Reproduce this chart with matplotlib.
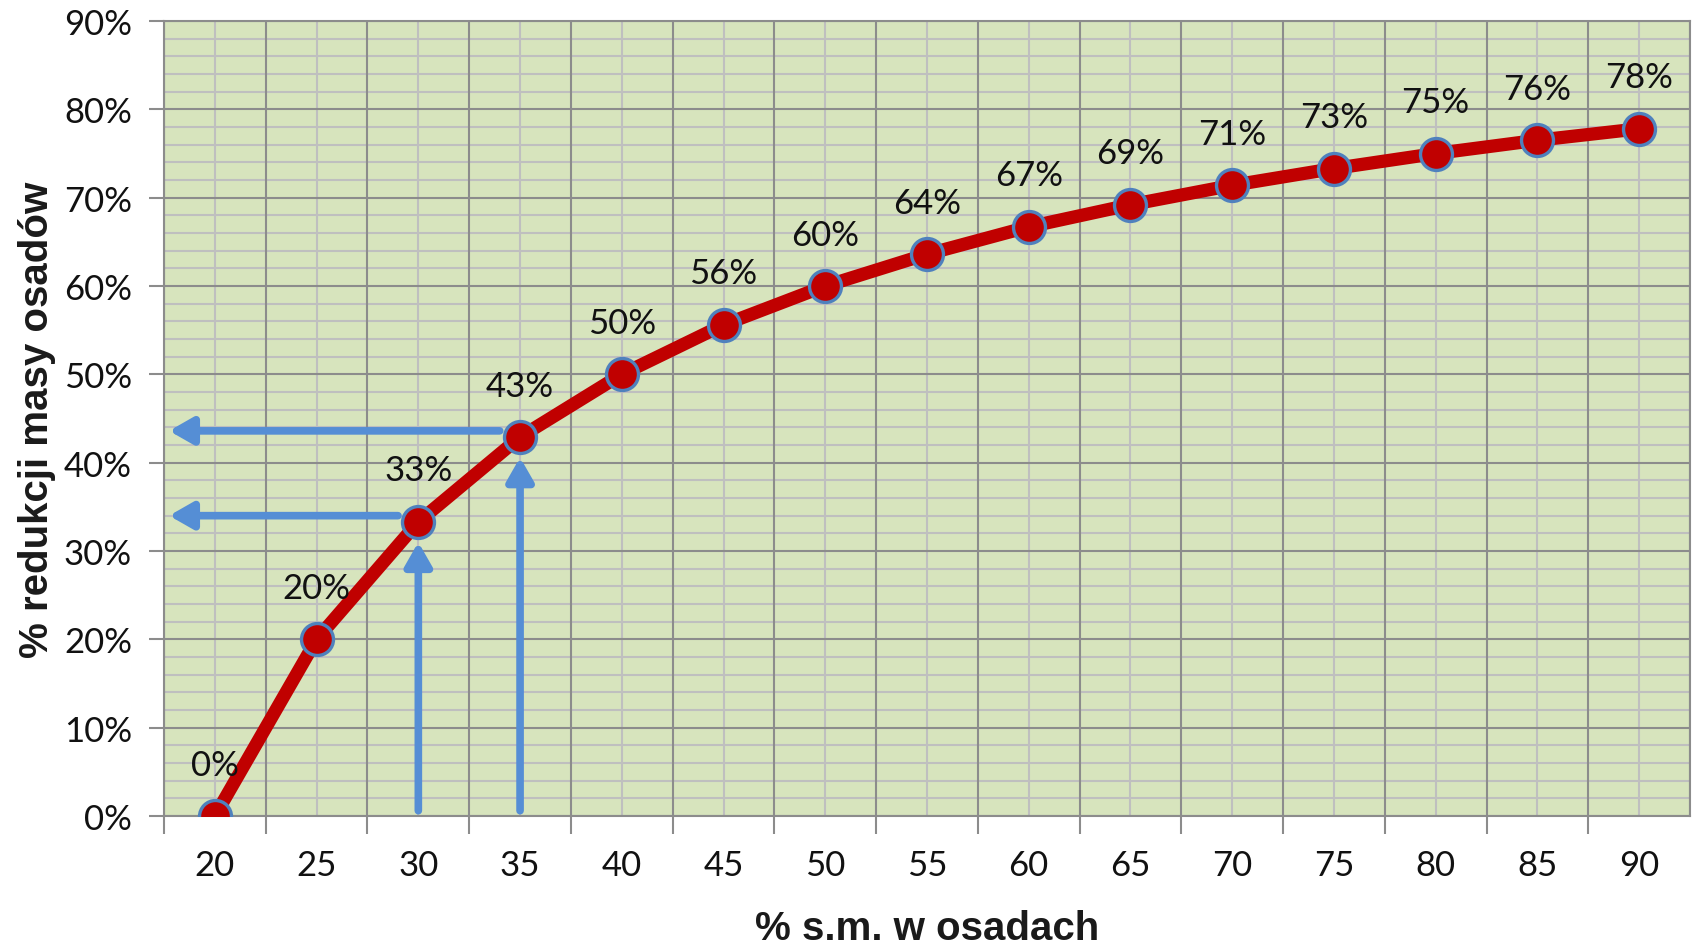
import numpy as np
import matplotlib.pyplot as plt
from matplotlib.ticker import FixedLocator, MultipleLocator, FuncFormatter

# % s.m. w osadach vs % redukcji masy osadow
sm = [20, 25, 30, 35, 40, 45, 50, 55, 60, 65, 70, 75, 80, 85, 90]
reduction = [0.0, 20.0, 33.3, 42.9, 50.0, 55.6, 60.0, 63.6, 66.7, 69.2, 71.4, 73.3, 75.0, 76.5, 77.8]
labels = ['0%', '20%', '33%', '43%', '50%', '56%', '60%', '64%', '67%', '69%',
          '71%', '73%', '75%', '76%', '78%']
marked = [30, 35]

x = np.arange(len(sm))

fig = plt.figure(figsize=(16.96, 9.45), dpi=100)
ax = fig.add_axes([164 / 1696, 1 - 817 / 945, (1690 - 164) / 1696, (817 - 22) / 945])
ax.set_facecolor('#D7E4BD')

ax.set_xlim(-0.5, len(sm) - 0.5)
ax.set_ylim(0, 90)

# grid: category boundaries + centres, 10% major / 2% minor
ax.xaxis.set_major_locator(FixedLocator(x))
ax.set_xticks(x - 0.5, minor=True)
for xc in x:
    ax.axvline(xc, color='#BFBFBF', lw=1.5, zorder=1)
for xb in np.append(x - 0.5, x[-1] + 0.5):
    ax.axvline(xb, color='#8C8C8C', lw=1.5, zorder=1.2)
for yv in np.arange(0, 91, 2):
    if yv % 10:
        ax.axhline(yv, color='#BFBFBF', lw=1.5, zorder=1)
for yv in np.arange(0, 91, 10):
    ax.axhline(yv, color='#8C8C8C', lw=1.5, zorder=1.2)

ax.yaxis.set_major_locator(MultipleLocator(10))
ax.yaxis.set_major_formatter(FuncFormatter(lambda v, p: '%d%%' % v))
ax.set_xticklabels([str(s) for s in sm])

for s in ax.spines.values():
    s.set_color('#8C8C8C')
    s.set_linewidth(1.5)

ax.tick_params(axis='x', which='major', length=0, pad=24, labelsize=25, labelcolor='#111111')
ax.tick_params(axis='x', which='minor', length=13, width=1.5, color='#8C8C8C')
ax.tick_params(axis='y', which='major', length=11, width=1.5, color='#8C8C8C', pad=12,
               labelsize=25, labelcolor='#111111')
for t in ax.get_xticklabels() + ax.get_yticklabels():
    t.set_family('Lato')

# arrows
blue = '#558ED5'
aprops = dict(arrowstyle='-|>,head_length=1.4,head_width=0.8', color=blue, lw=5.5,
              shrinkA=0, shrinkB=0)
for m in marked:
    i = sm.index(m)
    v = reduction[i]
    ax.annotate('', xy=(-0.45, v + 0.7), xytext=(i - 0.2, v + 0.7), arrowprops=aprops, zorder=3)
    ax.annotate('', xy=(i, v - 2.3), xytext=(i, 0.6), arrowprops=aprops, zorder=3)

# curve
ax.plot(x, reduction, color='#C00000', lw=9.5, zorder=4, solid_capstyle='round')
ax.plot(x, reduction, 'o', ms=23, mfc='#C00000', mec='#4F81BD', mew=2.4, zorder=5)

for xi, v, lab in zip(x, reduction, labels):
    ax.annotate(lab, (xi, v), xytext=(0, 37), textcoords='offset points', ha='center',
                va='center', fontsize=25, family='Lato', color='#111111', zorder=6)

ax.set_xlabel('% s.m. w osadach', fontsize=29, fontweight='bold', family='Liberation Sans',
              color='#1a1a1a', labelpad=20)
ax.set_ylabel('% redukcji masy osadów', fontsize=29, fontweight='bold', family='Liberation Sans',
              color='#1a1a1a', labelpad=6)

fig.savefig('out.png', dpi=100)
